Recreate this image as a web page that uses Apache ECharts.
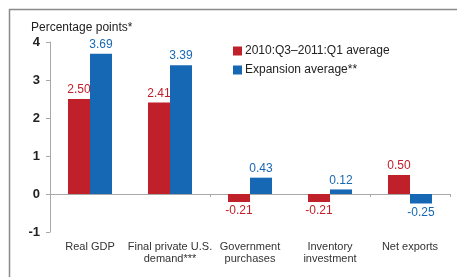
<!DOCTYPE html>
<html>
<head>
<meta charset="utf-8">
<script src="https://cdn.jsdelivr.net/npm/echarts@6/dist/echarts.min.js"></script>
<style>
  html, body { margin: 0; padding: 0; background: #fff; }
  #chart { width: 457px; height: 277px; }
</style>
</head>
<body>
<div id="chart"></div>
<script>
// data
var categories = ['Real GDP', 'Final private U.S.\ndemand***', 'Government\npurchases', 'Inventory\ninvestment', 'Net exports']
var recentAvg = [2.50, 2.41, -0.21, -0.21, 0.50]
var expansionAvg = [3.69, 3.39, 0.43, 0.12, -0.25]
var seriesNames = ['2010:Q3\u20132011:Q1 average', 'Expansion average**']
var yTicks = [-1, 0, 1, 2, 3, 4]

var RED = '#c0202a'
var BLUE = '#1668b4'
var FONT = 'Liberation Sans, Arial, sans-serif'

// negative values get their label under the bar
function withLabels(arr) {
  return arr.map(function (v) {
    return { value: v, label: { position: v < 0 ? 'bottom' : 'top' } }
  })
}

var myChart = echarts.init(document.getElementById('chart'))
myChart.setOption({
  animation: false,
  textStyle: { fontFamily: FONT },
  graphic: [
    {
      // outer frame
      type: 'rect',
      shape: { x: 9.5, y: 9.5, width: 520, height: 320 },
      style: { fill: 'none', stroke: '#8a8a8a', lineWidth: 1.5 }
    },
    {
      type: 'text',
      left: 31,
      top: 22,
      style: { text: 'Percentage points*', fontSize: 12, fill: '#222', fontFamily: FONT }
    }
  ],
  legend: {
    data: seriesNames,
    orient: 'vertical',
    left: 228,
    top: 40,
    icon: 'rect',
    itemWidth: 9,
    itemHeight: 9,
    itemGap: 7,
    textStyle: { fontSize: 12, color: '#222', padding: [0, 0, 0, -2] }
  },
  grid: { left: 50, right: 7, top: 42, bottom: 45 },
  xAxis: [
    {
      type: 'category',
      data: categories,
      axisLine: { onZero: true, lineStyle: { color: '#a8a8a8' } },
      axisTick: { show: true, length: 3, lineStyle: { color: '#a8a8a8' } },
      axisLabel: { show: false }
    },
    {
      type: 'category',
      data: categories,
      position: 'bottom',
      axisLine: { show: false },
      axisTick: { show: false },
      axisLabel: { interval: 0, fontSize: 11, color: '#333', lineHeight: 12, margin: 9 }
    }
  ],
  yAxis: {
    type: 'value',
    min: yTicks[0],
    max: yTicks[yTicks.length - 1],
    interval: 1,
    splitLine: { show: false },
    axisLine: { show: true, lineStyle: { color: '#a8a8a8' } },
    axisTick: { show: true, length: 4, lineStyle: { color: '#a8a8a8' } },
    axisLabel: { fontSize: 13, color: '#222', fontWeight: 'bold', margin: 10 }
  },
  series: [
    {
      name: seriesNames[0],
      type: 'bar',
      xAxisIndex: 0,
      data: withLabels(recentAvg),
      barWidth: 22,
      barGap: '0%',
      itemStyle: { color: RED },
      label: {
        show: true,
        distance: 3,
        fontSize: 12,
        color: RED,
        formatter: function (p) { return p.value.toFixed(2) }
      }
    },
    {
      name: seriesNames[1],
      type: 'bar',
      xAxisIndex: 0,
      data: withLabels(expansionAvg),
      barWidth: 22,
      barGap: '0%',
      itemStyle: { color: BLUE },
      label: {
        show: true,
        distance: 3,
        fontSize: 12,
        color: BLUE,
        formatter: function (p) { return p.value.toFixed(2) }
      }
    }
  ]
})
</script>
</body>
</html>
